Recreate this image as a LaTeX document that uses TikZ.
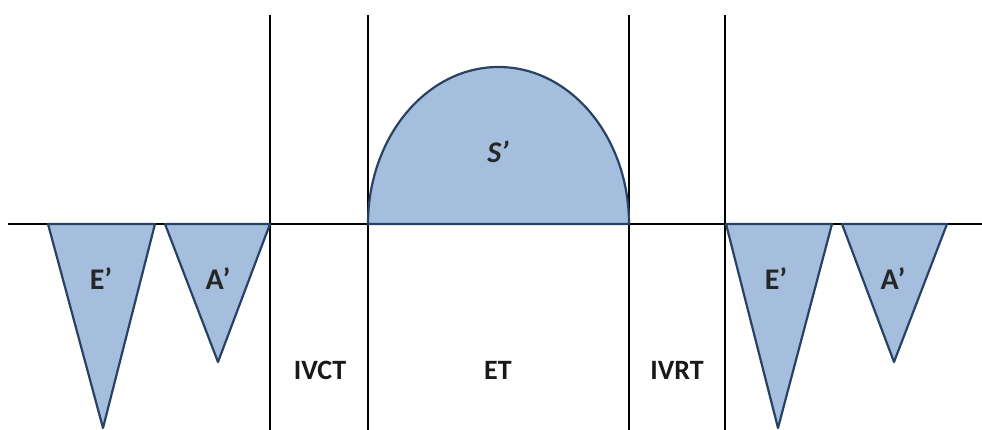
\documentclass[tikz,border=0pt]{standalone}
\usepackage{fontspec}
\setmainfont{Carlito}
\definecolor{wavefill}{RGB}{166,190,222}
\definecolor{wavedraw}{RGB}{40,66,100}
\tikzset{
  wave/.style={fill=wavefill,draw=wavedraw,line width=2.2pt,line join=round},
  axis/.style={draw=black,line width=2.4pt},
  divider/.style={draw=black,line width=1.6pt},
  lbl/.style={font=\bfseries\fontsize{30}{34}\selectfont,text=black!85},
  phase/.style={font=\bfseries\fontsize{28}{32}\selectfont,text=black!90}
}
\begin{document}
\begin{tikzpicture}[x=1pt,y=-1pt]
\useasboundingbox (0,0) rectangle (982,430);
% baseline
\draw[axis] (8,224) -- (982,224);
% dividers
\foreach \xx in {270,368,629,725} \draw[divider] (\xx,15) -- (\xx,430);
% S' wave
\draw[wave] (368,224) arc[start angle=180,end angle=360,x radius=130.5,y radius=157] -- cycle;
% left E' and A'
\draw[wave] (48,224) -- (103,428) -- (155,224) -- cycle;
\draw[wave] (165,224) -- (218,362) -- (270,224) -- cycle;
% right E' and A'
\draw[wave] (726,224) -- (778,428) -- (832,224) -- cycle;
\draw[wave] (842,224) -- (894,362) -- (947,224) -- cycle;
% labels
\node[lbl] (s) at (498,152) {\itshape S’};
\node[lbl] (e1) at (101,279) {E’};
\node[lbl] (a1) at (218,279) {A’};
\node[lbl] (e2) at (776,279) {E’};
\node[lbl] (a2) at (893,279) {A’};
\node[phase] (ivct) at (320,370) {IVCT};
\node[phase] (et) at (498,370) {ET};
\node[phase] (ivrt) at (677,370) {IVRT};
\end{tikzpicture}
\end{document}
